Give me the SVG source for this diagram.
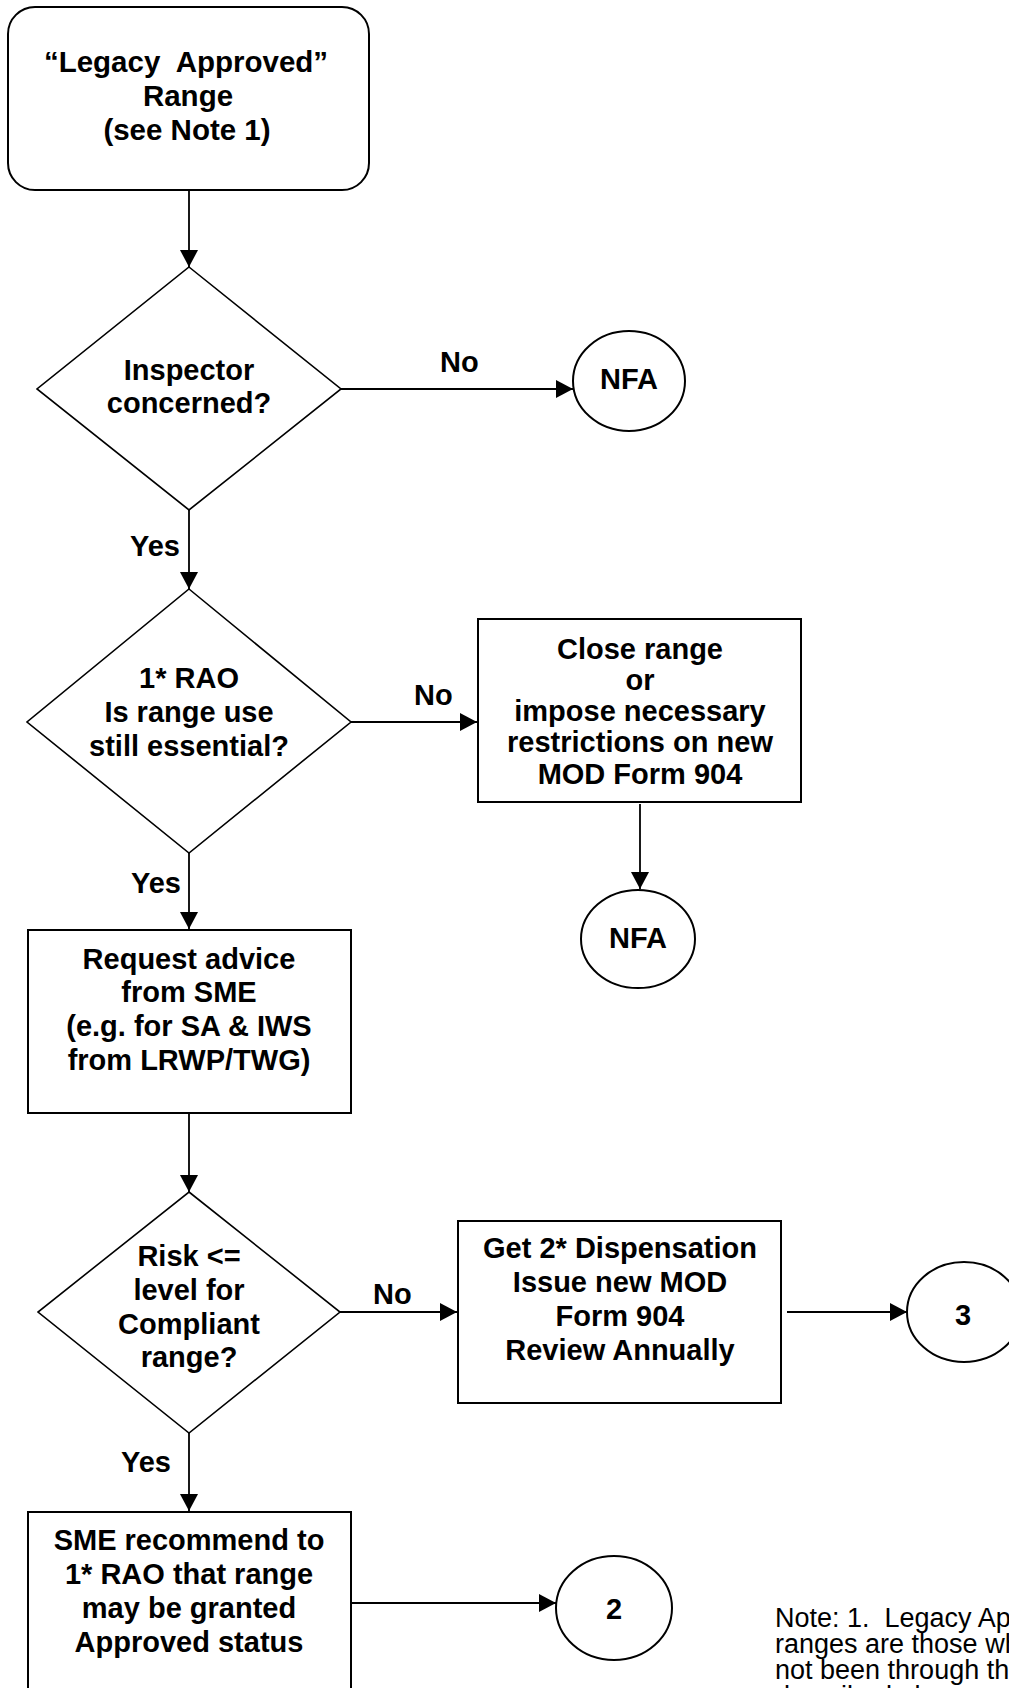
<svg xmlns="http://www.w3.org/2000/svg" width="1009" height="1688" viewBox="0 0 1009 1688">
<style>
.sh{fill:#fff;stroke:#000;stroke-width:2}
.dm{fill:#fff;stroke:#000;stroke-width:1.6}
.t{font-family:"Liberation Sans",Arial,sans-serif;font-weight:bold;font-size:29px;text-anchor:middle;fill:#000;white-space:pre}
.lb{font-family:"Liberation Sans",Arial,sans-serif;font-weight:bold;font-size:29px;fill:#000}
.note{font-family:"Liberation Sans",Arial,sans-serif;font-size:27px;fill:#000;white-space:pre}
.cn{stroke:#000;stroke-width:1.8;fill:none;marker-end:url(#ah)}
</style>
<defs>
<marker id="ah" markerUnits="userSpaceOnUse" markerWidth="18" markerHeight="18" refX="17" refY="9" orient="auto">
<path d="M0,0 L17,9 L0,18 z" fill="#000"/>
</marker>
</defs>
<rect width="1009" height="1688" fill="#fff"/>
<g id="connectors">
<line class="cn" x1="189" y1="190" x2="189" y2="267"/>
<line class="cn" x1="341" y1="389" x2="573" y2="389"/>
<line class="cn" x1="189" y1="510" x2="189" y2="589"/>
<line class="cn" x1="350" y1="722" x2="477" y2="722"/>
<line class="cn" x1="640" y1="804" x2="640" y2="889"/>
<line class="cn" x1="189" y1="853" x2="189" y2="929"/>
<line class="cn" x1="189" y1="1113" x2="189" y2="1192"/>
<line class="cn" x1="340" y1="1312" x2="457" y2="1312"/>
<line class="cn" x1="787" y1="1312" x2="907" y2="1312"/>
<line class="cn" x1="189" y1="1433" x2="189" y2="1511"/>
<line class="cn" x1="352" y1="1603" x2="556" y2="1603"/>
<text class="lb" x="440" y="372">No</text>
<text class="lb" x="130" y="556">Yes</text>
<text class="lb" x="414" y="705">No</text>
<text class="lb" x="131" y="893">Yes</text>
<text class="lb" x="373" y="1304">No</text>
<text class="lb" x="121" y="1472">Yes</text>
</g>
<g id="start">
<rect class="sh" x="8" y="7" width="361" height="183" rx="27"/>
<text class="t" x="186" y="72" style="font-size:29.5px">“Legacy  Approved”</text>
<text class="t" x="188" y="106" style="font-size:29.5px">Range</text>
<text class="t" x="187" y="140" style="font-size:29.5px">(see Note 1)</text>
</g>
<g id="d1">
<polygon class="dm" points="189,267 341,389 189,510 37,389"/>
<text class="t" x="189" y="380">Inspector</text>
<text class="t" x="189" y="413">concerned?</text>
</g>
<g id="nfa1">
<ellipse class="sh" cx="629" cy="381" rx="56" ry="50"/>
<text class="t" x="629" y="389">NFA</text>
</g>
<g id="d2">
<polygon class="dm" points="189,589 351,722 189,853 27,722"/>
<text class="t" x="189" y="688">1* RAO</text>
<text class="t" x="189" y="722">Is range use</text>
<text class="t" x="189" y="756">still essential?</text>
</g>
<g id="close">
<rect class="sh" x="478" y="619" width="323" height="183"/>
<text class="t" x="640" y="659">Close range</text>
<text class="t" x="640" y="690">or</text>
<text class="t" x="640" y="721">impose necessary</text>
<text class="t" x="640" y="752">restrictions on new</text>
<text class="t" x="640" y="784">MOD Form 904</text>
</g>
<g id="nfa2">
<ellipse class="sh" cx="638" cy="939" rx="57" ry="49"/>
<text class="t" x="638" y="948">NFA</text>
</g>
<g id="advice">
<rect class="sh" x="28" y="930" width="323" height="183"/>
<text class="t" x="189" y="969">Request advice</text>
<text class="t" x="189" y="1002">from SME</text>
<text class="t" x="189" y="1036">(e.g. for SA &amp; IWS</text>
<text class="t" x="189" y="1070">from LRWP/TWG)</text>
</g>
<g id="d3">
<polygon class="dm" points="189,1192 340,1312 189,1433 38,1312"/>
<text class="t" x="189" y="1266">Risk &lt;=</text>
<text class="t" x="189" y="1300">level for</text>
<text class="t" x="189" y="1334">Compliant</text>
<text class="t" x="189" y="1367">range?</text>
</g>
<g id="dispensation">
<rect class="sh" x="458" y="1221" width="323" height="182"/>
<text class="t" x="620" y="1258">Get 2* Dispensation</text>
<text class="t" x="620" y="1292">Issue new MOD</text>
<text class="t" x="620" y="1326">Form 904</text>
<text class="t" x="620" y="1360">Review Annually</text>
</g>
<g id="c3">
<ellipse class="sh" cx="964" cy="1312" rx="57" ry="50"/>
<text class="t" x="963" y="1325">3</text>
</g>
<g id="recommend">
<rect class="sh" x="28" y="1512" width="323" height="200"/>
<text class="t" x="189" y="1550">SME recommend to</text>
<text class="t" x="189" y="1584">1* RAO that range</text>
<text class="t" x="189" y="1618">may be granted</text>
<text class="t" x="189" y="1652">Approved status</text>
</g>
<g id="c2">
<ellipse class="sh" cx="614" cy="1608" rx="58" ry="52"/>
<text class="t" x="614" y="1619">2</text>
</g>
<g id="note">
<text class="note" x="775" y="1627">Note: 1.  Legacy Approved</text>
<text class="note" x="775" y="1653">ranges are those which have</text>
<text class="note" x="775" y="1679">not been through the process</text>
<text class="note" x="775" y="1705">described above</text>
</g>
</svg>
